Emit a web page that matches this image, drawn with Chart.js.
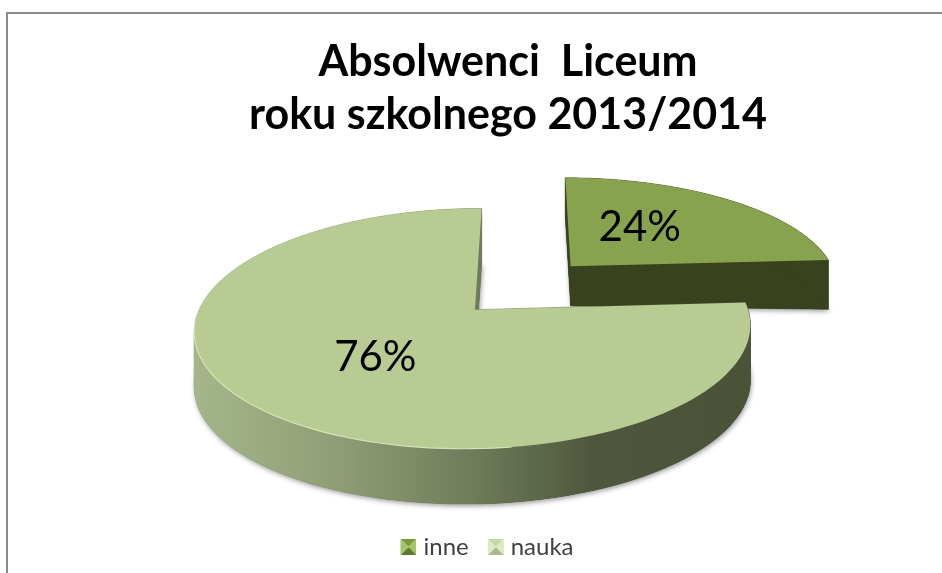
<!DOCTYPE html>
<html lang="pl">
<head>
<meta charset="utf-8">
<title>Absolwenci Liceum</title>
<script src="https://cdn.jsdelivr.net/npm/chart.js@4/dist/chart.umd.min.js"></script>
<style>
  html, body { margin: 0; padding: 0; background: #fff; overflow: hidden; }
  #wrap { position: relative; width: 942px; height: 573px; overflow: hidden; }
  #frame { position: absolute; left: 6px; top: 12px; width: 950px; height: 580px; border: 2px solid #8c8c8c; }
  canvas { position: absolute; left: 0; top: 0; }
</style>
</head>
<body>
<div id="wrap">
  <div id="frame"></div>
  <canvas id="chart" width="942" height="573"></canvas>
</div>
<script>
const categories = ['inne', 'nauka'];
const values = [24, 76];
const titleLines = ['Absolwenci  Liceum', 'roku szkolnego 2013/2014'];

const topColors = ['#88a34e', '#b7cb93'];
const legendColors = [['#a6c468', '#7b9a3d', '#5f7a2e'], ['#dfe9c6', '#c7d6a6', '#a9bc85']];

// tilted view of each slice, all in units of the arc's outerRadius
const sliceViews = [
  { dx: 0.489, dy: -0.426, a: 1.425, b: 0.557, s: -0.033, k: 0.158, m: 0.005, depth: 0.214, depthSlope: 0.25, labelU: 0.29, labelV: 0.4 },
  { dx: -0.03, dy: -0.191, a: 1.49, b: 0.636, s: 0.042, k: 0.158, m: 0.005, depth: 0.3, depthSlope: 0, labelU: -0.33, labelV: -0.38 }
];

function legendIcon(colors) {
  // icon sits at the right end of a wider canvas so it lands close to its text
  const size = 16;
  const off = 18;
  const c = document.createElement('canvas');
  c.width = off + size;
  c.height = size;
  const g = c.getContext('2d');
  const tri = (x1, y1, x2, y2, col) => {
    g.fillStyle = col;
    g.beginPath();
    g.moveTo(off + x1, y1);
    g.lineTo(off + x2, y2);
    g.lineTo(off + size / 2, size / 2);
    g.closePath();
    g.fill();
  };
  tri(0, 0, size, 0, colors[1]);
  tri(size, 0, size, size, colors[0]);
  tri(size, size, 0, size, colors[2]);
  tri(0, size, 0, 0, colors[0]);
  return c;
}

function project(view, el, u, v) {
  const R = el.outerRadius;
  const w = 1 + view.k * v + view.m * u;
  return {
    x: el.x + R * (view.dx + (view.a * u + view.s * v) / w),
    y: el.y + R * (view.dy - view.b * v / w),
    drop: R * view.depth * (1 + view.depthSlope * u)
  };
}

function sliceOutline(view, el) {
  const pts = [project(view, el, 0, 0)];
  const steps = 160;
  for (let i = 0; i <= steps; i++) {
    const ang = el.startAngle + (el.endAngle - el.startAngle) * i / steps;
    pts.push(project(view, el, Math.cos(ang), -Math.sin(ang)));
  }
  return pts;
}

function tracePath(ctx, pts, shift) {
  ctx.beginPath();
  pts.forEach((p, i) => {
    const y = shift ? p.y + p.drop : p.y;
    if (i === 0) ctx.moveTo(p.x, y);
    else ctx.lineTo(p.x, y);
  });
  ctx.closePath();
}

function fillBody(ctx, pts) {
  // top outline and dropped outline joined up, strip by strip
  for (let i = 0; i < pts.length; i++) {
    const p = pts[i];
    const q = pts[(i + 1) % pts.length];
    ctx.beginPath();
    ctx.moveTo(p.x, p.y);
    ctx.lineTo(q.x, q.y);
    ctx.lineTo(q.x, q.y + q.drop);
    ctx.lineTo(p.x, p.y + p.drop);
    ctx.closePath();
    ctx.fill();
    ctx.stroke();
  }
}

const pie3d = {
  id: 'pie3d',
  afterLayout(chart) {
    // title sits further right than the legend
    chart.titleBlock.left += 27.5;
    chart.titleBlock.right += 27.5;
  },
  beforeDatasetDraw(chart) {
    const ctx = chart.ctx;
    const arcs = chart.getDatasetMeta(0).data;

    arcs.forEach((el, i) => {
      const view = sliceViews[i];
      const pts = sliceOutline(view, el);

      ctx.save();
      ctx.shadowColor = 'rgba(70,70,70,0.55)';
      ctx.shadowBlur = 5;
      ctx.shadowOffsetX = 1;
      ctx.shadowOffsetY = 2;
      ctx.fillStyle = '#555';
      tracePath(ctx, pts, true);
      ctx.fill();
      ctx.restore();

      let wall;
      if (i === 0) {
        wall = '#39421e';
      } else {
        const left = project(view, el, -1, 0).x;
        const right = project(view, el, 1, 0).x;
        wall = ctx.createLinearGradient(left, 0, right, 0);
        wall.addColorStop(0, '#a5b58a');
        wall.addColorStop(0.25, '#8f9e76');
        wall.addColorStop(0.5, '#6f7b59');
        wall.addColorStop(0.72, '#4e573c');
        wall.addColorStop(1, '#4a5238');
      }
      ctx.fillStyle = wall;
      ctx.strokeStyle = wall;
      ctx.lineWidth = 0.5;
      fillBody(ctx, pts);
      tracePath(ctx, pts, true);
      ctx.fill();

      ctx.fillStyle = topColors[i];
      tracePath(ctx, pts, false);
      ctx.fill();

      if (i === 1) {
        // light rim along the front edge
        ctx.strokeStyle = '#d6e2b8';
        ctx.lineWidth = 1.2;
        ctx.beginPath();
        let started = false;
        pts.slice(1).forEach((p, j) => {
          const ang = el.startAngle + (el.endAngle - el.startAngle) * j / 160;
          const u = Math.cos(ang);
          const v = -Math.sin(ang);
          if (v < -0.1 && u < 0.15) {
            if (!started) ctx.moveTo(p.x, p.y);
            else ctx.lineTo(p.x, p.y);
            started = true;
          }
        });
        ctx.stroke();
      }
    });

    ctx.fillStyle = '#000';
    ctx.font = '42px Lato';
    ctx.textAlign = 'center';
    ctx.textBaseline = 'middle';
    arcs.forEach((el, i) => {
      const view = sliceViews[i];
      const at = project(view, el, view.labelU, view.labelV);
      ctx.fillText(values[i] + '%', at.x, at.y);
    });
    return false;
  }
};

new Chart(document.getElementById('chart'), {
  type: 'pie',
  data: {
    labels: categories,
    datasets: [{ data: values, backgroundColor: topColors, borderWidth: 0 }]
  },
  plugins: [pie3d],
  options: {
    responsive: false,
    animation: false,
    events: [],
    layout: { padding: { left: 19, right: 0, top: 0, bottom: 4 } },
    plugins: {
      tooltip: { enabled: false },
      title: {
        display: true,
        text: titleLines,
        color: '#000',
        font: { family: 'Lato', size: 43, weight: 'bold', lineHeight: 1.24 },
        padding: { top: 35, bottom: 19 }
      },
      legend: {
        position: 'bottom',
        labels: {
          usePointStyle: true,
          color: '#404040',
          font: { family: 'Lato', size: 24 },
          padding: 6,
          generateLabels(chart) {
            return categories.map((name, i) => ({
              text: name,
              fontColor: '#404040',
              pointStyle: legendIcon(legendColors[i]),
              fillStyle: topColors[i],
              strokeStyle: topColors[i],
              lineWidth: 0,
              index: i
            }));
          }
        }
      }
    }
  }
});
</script>
</body>
</html>
